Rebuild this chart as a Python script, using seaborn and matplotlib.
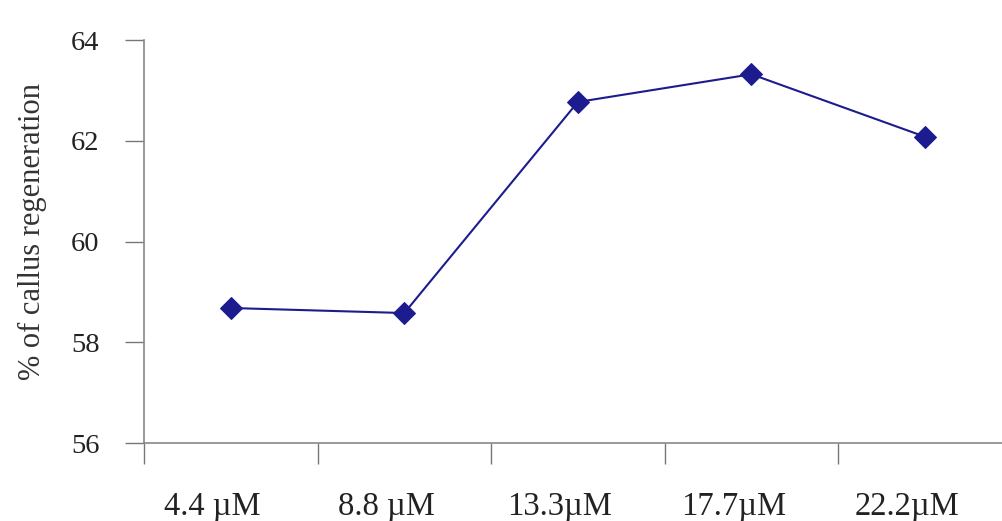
import matplotlib
matplotlib.use("Agg")
import matplotlib.pyplot as plt
import matplotlib.transforms as mtransforms
import seaborn as sns
import pandas as pd
import numpy as np

categories = ["4.4 µM", "8.8 µM", "13.3µM", "17.7µM", "22.2µM"]
values = [58.68, 58.58, 62.77, 63.32, 62.08]
yticks = [56, 58, 60, 62, 64]

sns.set_style("white")
plt.rcParams['font.family'] = ['Liberation Serif', 'DejaVu Serif']

df = pd.DataFrame({"conc": categories, "pct": values})

fig = plt.figure(figsize=(10.02, 5.21), dpi=100)
ax = fig.add_axes([0.1437, 0.1497, 0.866, 0.7735])
sns.lineplot(data=df, x="conc", y="pct", ax=ax, color="#1c1c8e", linewidth=1.5,
             marker="D", markersize=11, markeredgecolor="#1c1c8e", sort=False)

ax.set_ylim(56, 64)
ax.set_xlim(-0.5, 4.5)
ax.set_yticks(yticks)
ax.set_yticklabels([str(t) for t in yticks], fontsize=20.5, color="#222222")
ax.tick_params(axis="y", length=14, width=1, color="#777777", pad=18, direction="out", left=True)

ax.set_xticks(range(len(categories)))
ax.set_xticklabels(categories, fontsize=23.5, color="#222222")
ax.tick_params(axis="x", which="major", length=0, pad=35)
ax.set_xticks(np.arange(-0.5, len(categories) - 0.5, 1.0), minor=True)
ax.tick_params(axis="x", which="minor", length=15, width=1, color="#777777", direction="out", bottom=True)
offset = mtransforms.ScaledTranslation(-18 / 100, 0, fig.dpi_scale_trans)
for lbl in ax.get_xticklabels():
    lbl.set_transform(lbl.get_transform() + offset)

ax.set_xlabel("")
ax.set_ylabel("% of callus regeneration", fontsize=22, color="#333333")
ax.yaxis.set_label_coords(-0.112, 0.526)

for side in ["top", "right"]:
    ax.spines[side].set_visible(False)
for side in ["left", "bottom"]:
    ax.spines[side].set_visible(True)
    ax.spines[side].set_color("#888888")
    ax.spines[side].set_linestyle((0, (2, 1)))
    ax.spines[side].set_linewidth(1.2)

fig.savefig("out.png", dpi=100)
